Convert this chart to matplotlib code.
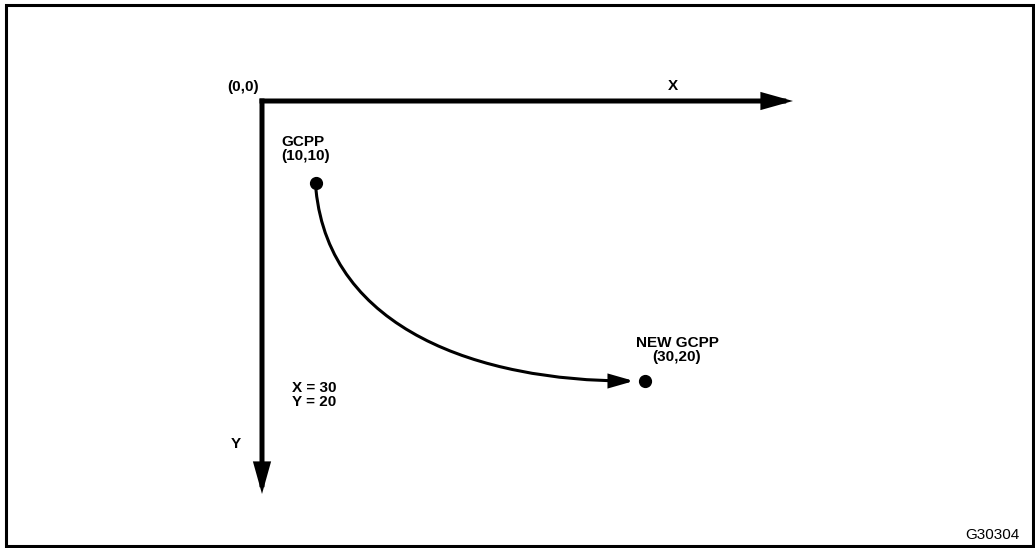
import matplotlib
matplotlib.use("Agg")
import matplotlib.pyplot as plt
from matplotlib.patches import FancyArrowPatch, Rectangle
from matplotlib.path import Path

plt.rcParams['font.family'] = ['Liberation Sans', 'DejaVu Sans']

# diagram geometry, in picture pixels (origin at top left)
origin = (262, 101)
x_axis_end = (793, 101)
y_axis_end = (262, 494)
gcpp = (316, 183)
new_gcpp = (645, 381)
# bezier control points of the move arc
arc = [(316, 190), (330, 330), (480, 381), (634, 381)]

labels = ["(0,0)", "X", "Y", "GCPP\n(10,10)", "NEW GCPP\n(30,20)", "X = 30\nY = 20"]
label_pos = [(227, 87), (668, 86), (231, 444), (281, 149), (677, 350), (292, 395)]
label_ha = ["left", "left", "left", "left", "center", "left"]
fig_id = "G30304"

fig = plt.figure(figsize=(10.35, 5.48), dpi=100)
ax = fig.add_axes([0, 0, 1, 1])
ax.set_xlim(0, 1035)
ax.set_ylim(548, 0)
ax.axis('off')

# frame
ax.add_patch(Rectangle((6, 5), 1027, 541, fill=False, lw=2.2, ec='black'))

# axes arrows
for end in [x_axis_end, y_axis_end]:
    ax.add_patch(FancyArrowPatch(origin, end, arrowstyle='-|>,head_length=1.5,head_width=0.42',
                                 mutation_scale=10, lw=3.6, color='black',
                                 shrinkA=0, shrinkB=0, capstyle='projecting',
                                 joinstyle='miter'))

# points
ax.plot([gcpp[0], new_gcpp[0]], [gcpp[1], new_gcpp[1]], 'o', color='black', ms=8.5)

# curved move
path = Path(arc, [Path.MOVETO, Path.CURVE4, Path.CURVE4, Path.CURVE4])
ax.add_patch(FancyArrowPatch(path=path, arrowstyle='-|>,head_length=1.4,head_width=0.4',
                             mutation_scale=10, lw=2.2, color='black', joinstyle='miter'))

for txt, (x, y), ha in zip(labels, label_pos, label_ha):
    ax.text(x, y, txt, ha=ha, va='center', fontsize=11, fontweight='bold',
            linespacing=1.0)

ax.text(1019, 535, fig_id, ha='right', va='center', fontsize=11)

fig.savefig("out.png", dpi=100)
